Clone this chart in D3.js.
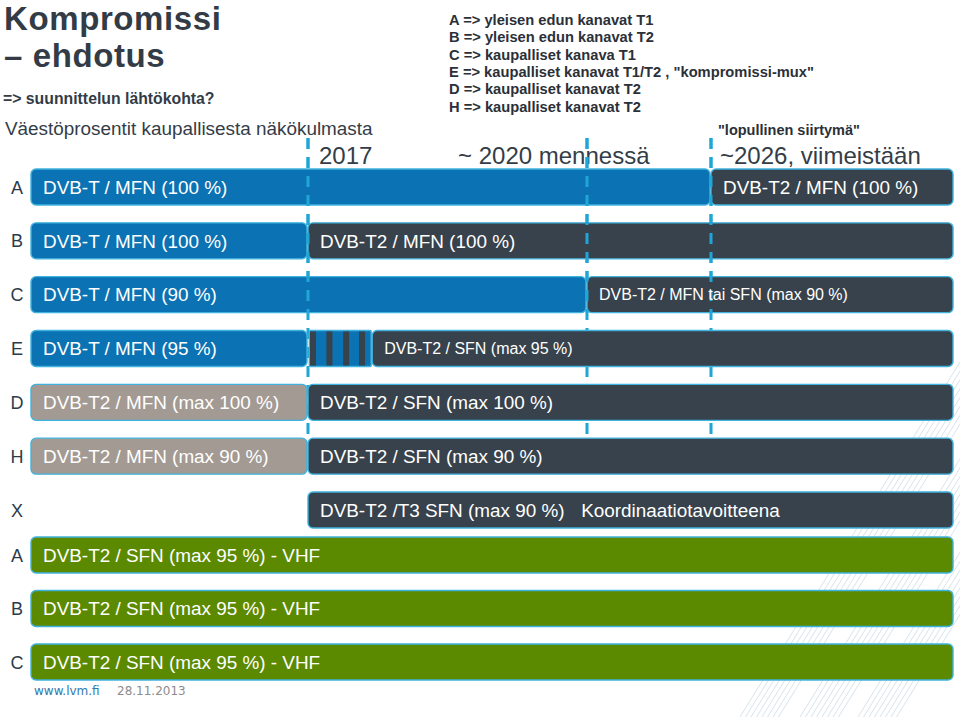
<!DOCTYPE html>
<html><head><meta charset="utf-8">
<script src="https://cdn.jsdelivr.net/npm/d3@7"></script>
<style>html,body{margin:0;padding:0;background:#fff;}svg{display:block;}</style>
</head><body>
<script>
// ---------- data ----------
const rowLabels = ["A","B","C","E","D","H","X","A","B","C"];
// phases: 0 = today, 1 = 2017, 2 = ~2020, 3 = ~2026, 4 = end of horizon
const phaseLabels = ["", "2017", "~ 2020 mennessä", "~2026, viimeistään", ""];
const legendLines = [
  "A => yleisen edun kanavat T1",
  "B => yleisen edun kanavat T2",
  "C => kaupalliset kanava T1",
  "E => kaupalliset kanavat T1/T2 , \"kompromissi-mux\"",
  "D => kaupalliset kanavat T2",
  "H => kaupalliset kanavat T2"
];
const segRow   = [0,0, 1,1, 2,2, 3,3,3, 4,4, 5,5, 6, 7,8,9];
const segFrom  = [0,3, 0,1, 0,2, 0,1.005,1.23, 0,1, 0,1, 1, 0,0,0];
const segTo    = [3,4, 1,4, 2,4, 1,1.23,4, 1,4, 1,4, 4, 4,4,4];
const segKind  = ["T","T2", "T","T2", "T","T2", "T","mix","T2", "pre","T2", "pre","T2", "T2", "VHF","VHF","VHF"];
const segLabel = [
  "DVB-T / MFN (100 %)", "DVB-T2 / MFN (100 %)",
  "DVB-T / MFN (100 %)", "DVB-T2 / MFN (100 %)",
  "DVB-T / MFN (90 %)", "DVB-T2 / MFN tai SFN (max 90 %)",
  "DVB-T / MFN (95 %)", "", "DVB-T2 / SFN (max 95 %)",
  "DVB-T2 / MFN (max 100 %)", "DVB-T2 / SFN (max 100 %)",
  "DVB-T2 / MFN (max 90 %)", "DVB-T2 / SFN (max 90 %)",
  "DVB-T2 /T3 SFN (max 90 %)",
  "DVB-T2 / SFN (max 95 %) - VHF", "DVB-T2 / SFN (max 95 %) - VHF", "DVB-T2 / SFN (max 95 %) - VHF"
];
const mixStripes = [1.007, 1.066, 1.126, 1.183]; // E-row transition stripes (phase)
const xNote = {row: 6, at: 1.99, text: "Koordinaatiotavoitteena"};

// ---------- layout ----------
const W = 960, H = 717;
const FONT = "Arial, 'Liberation Sans', sans-serif";
const colors = {T:"#0b72b3", T2:"#37424c", pre:"#a39a93", VHF:"#5b8a00", mix:"#0b72b3"};
const outline = "#3fb3de";
const dashCol = "#1fa6d6";

const svg = d3.select("body").append("svg").attr("width", W).attr("height", H)
  .style("font-family", FONT);

const x = d3.scaleLinear().domain([0,1,2,3,4]).range([31,308,587,711,954]);
const y = d3.scaleLinear().domain([0,6,7,9]).range([169,492,537,644]);
const bh = 36;

// decorative hatching (background)
const deco = svg.append("g").attr("stroke", "#9cbccf").attr("stroke-width", 0.8).attr("opacity", 0.5);
[740, 800, 858].forEach(x0 => {
  d3.range(8).forEach(i => {
    const xb = x0 + i * 5.5;
    deco.append("line").attr("x1", xb).attr("y1", 717).attr("x2", xb + 0.62 * 380).attr("y2", 717 - 380);
  });
});

// title block
svg.append("text").attr("x", 4).attr("y", 30).attr("font-size", 33).attr("font-weight", "bold")
  .attr("letter-spacing", 0.6).attr("fill", "#333c46").text("Kompromissi");
svg.append("text").attr("x", 4).attr("y", 67).attr("font-size", 33).attr("font-weight", "bold")
  .attr("letter-spacing", 0.6).attr("fill", "#333c46").text("– ehdotus");
svg.append("text").attr("x", 3).attr("y", 104).attr("font-size", 15.8).attr("font-weight", "bold")
  .attr("fill", "#333c46").text("=> suunnittelun lähtökohta?");
svg.append("text").attr("x", 5).attr("y", 135).attr("font-size", 18.9)
  .attr("fill", "#333d47").text("Väestöprosentit kaupallisesta näkökulmasta");

// legend
svg.append("g").selectAll("text").data(legendLines).join("text")
  .attr("x", 449).attr("y", (d, i) => 25 + i * 17.3)
  .attr("font-size", 14.7).attr("font-weight", "bold").attr("fill", "#2b3038")
  .text(d => d);

svg.append("text").attr("x", 718).attr("y", 135).attr("font-size", 14.5).attr("font-weight", "bold")
  .attr("fill", "#2b3038").text("\"lopullinen siirtymä\"");

// phase headers
const hdr = svg.append("g").attr("font-size", 24).attr("fill", "#333d47");
hdr.append("text").attr("x", x(1) + 11).attr("y", 164).text(phaseLabels[1]);
hdr.append("text").attr("x", x(2) - 129).attr("y", 164).text(phaseLabels[2]);
hdr.append("text").attr("x", x(3) + 9).attr("y", 164).text(phaseLabels[3]);

// dashed milestone lines: behind bars
const dashTop = 138, dashBottom = y(5);
const milestones = [1,2,3];
svg.append("g").selectAll("line").data(milestones).join("line")
  .attr("x1", d => x(d)).attr("x2", d => x(d)).attr("y1", dashTop).attr("y2", dashBottom)
  .attr("stroke", dashCol).attr("stroke-width", 3).attr("stroke-dasharray", "11 8");

// bars
const segs = segRow.map((r, i) => ({row: r, from: segFrom[i], to: segTo[i], kind: segKind[i], label: segLabel[i]}));
const gBars = svg.append("g");
gBars.selectAll("rect").data(segs).join("rect")
  .attr("x", d => x(d.from)).attr("y", d => y(d.row))
  .attr("width", d => x(d.to) - x(d.from) - 1).attr("height", bh)
  .attr("rx", d => d.kind === "mix" ? 1 : 5)
  .attr("fill", d => colors[d.kind])
  .attr("stroke", outline).attr("stroke-width", 1.4);

// transition stripes on E row
gBars.append("g").selectAll("rect").data(mixStripes).join("rect")
  .attr("x", d => x(d)).attr("y", y(3) + 1).attr("width", 6).attr("height", bh - 2)
  .attr("fill", colors.T2);

// dashed lines on top for the upper rows
svg.append("g").selectAll("line").data(milestones).join("line")
  .attr("x1", d => x(d)).attr("x2", d => x(d)).attr("y1", dashTop).attr("y2", y(2) + bh)
  .attr("stroke", dashCol).attr("stroke-width", 3).attr("stroke-dasharray", "11 8");

// bar labels
const compact = new Set(["DVB-T2 / MFN tai SFN (max 90 %)", "DVB-T2 / SFN (max 95 %)"]);
svg.append("g").selectAll("text").data(segs.filter(d => d.label)).join("text")
  .attr("x", d => x(d.from) + 12)
  .attr("y", d => y(d.row) + bh / 2 + (compact.has(d.label) ? 5.5 : 6.8))
  .attr("font-size", d => compact.has(d.label) ? 16 : 18.9)
  .attr("fill", "#ffffff").text(d => d.label);

svg.append("text").attr("x", x(xNote.at) - 3).attr("y", y(xNote.row) + bh / 2 + 6.8)
  .attr("font-size", 18.9).attr("fill", "#ffffff").text(xNote.text);

// row letters
svg.append("g").selectAll("text").data(rowLabels).join("text")
  .attr("x", 17).attr("y", (d, i) => y(i) + bh / 2 + 6.5)
  .attr("text-anchor", "middle").attr("font-size", 18).attr("fill", "#2b3b4c")
  .text(d => d);

// footer
svg.append("text").attr("x", 34).attr("y", 695).attr("font-size", 12)
  .attr("font-family", "'DejaVu Sans', Verdana, sans-serif").attr("fill", "#2f78ad").text("www.lvm.fi");
svg.append("text").attr("x", 117).attr("y", 695).attr("font-size", 12)
  .attr("font-family", "'DejaVu Sans', Verdana, sans-serif").attr("fill", "#8c8c8c").text("28.11.2013");
</script>
</body></html>
